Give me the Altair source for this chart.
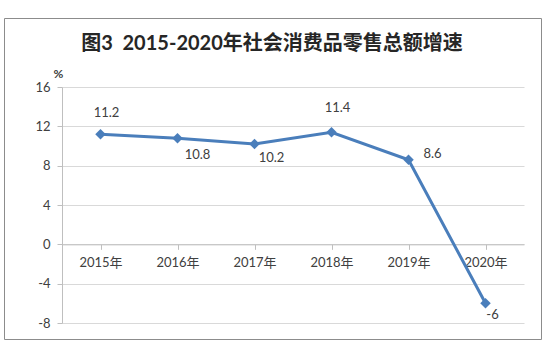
import altair as alt
import pandas as pd

years = ["2015年", "2016年", "2017年", "2018年", "2019年", "2020年"]
growth = [11.2, 10.8, 10.2, 11.4, 8.6, -6]
y_ticks = [-8, -4, 0, 4, 8, 12, 16]
title_text = "图3\u00a0\u00a02015-2020年社会消费品零售总额增速"

df = pd.DataFrame({"year": years, "value": growth})

FONT = "Lato, 'Noto Sans CJK SC', sans-serif"
BLUE = "#4a7ebb"
TXT = "#404040"
AX = "#bfbfbf"

W, H = 462, 236
zero_off = -(H * 8 / 24)

x_enc = alt.X(
    "year:N", sort=years,
    scale=alt.Scale(paddingInner=0, paddingOuter=0),
    axis=alt.Axis(
        title=None, orient="bottom", offset=zero_off, labelAngle=0,
        domainColor=AX, tickColor=AX, tickSize=5, bandPosition=0,
        labelFont=FONT, labelFontSize=13, labelColor=TXT, labelPadding=7,
        grid=False,
    ),
)
y_enc = alt.Y(
    "value:Q",
    scale=alt.Scale(domain=[-8, 16], nice=False, zero=False),
    axis=alt.Axis(
        values=y_ticks, title="%", titleAngle=0, titleX=-4, titleY=-14,
        titleAlign="center", titleBaseline="middle", titleFont=FONT,
        titleFontSize=12, titleFontWeight="bold", titleColor=TXT,
        domainColor=AX, tickColor=AX, tickSize=5, gridColor="#d9d9d9",
        labelFont=FONT, labelFontSize=13, labelColor=TXT, labelPadding=7,
        labelExpr="'' + datum.value", labelOverlap=False,
    ),
)

base = alt.Chart(df).encode(x=x_enc, y=y_enc).transform_calculate(
    label="'' + datum.value"
)

line = base.mark_line(color=BLUE, strokeWidth=3)
points = base.mark_point(shape="diamond", filled=True, size=110, color=BLUE, opacity=1)

offsets = {
    "2015年": (6, -21),
    "2016年": (20, 17),
    "2017年": (17, 14),
    "2018年": (6, -24),
    "2019年": (24, -6),
    "2020年": (7, 12),
}
label_layers = []
for yr, (dx, dy) in offsets.items():
    label_layers.append(
        base.transform_filter(alt.datum.year == yr)
        .mark_text(font=FONT, fontSize=13, color=TXT, dx=dx, dy=dy, align="center", baseline="middle")
        .encode(text="label:N")
    )

one = alt.Data(values=[{"t": title_text}])
border = alt.Chart(one).mark_rect(
    fill=None, stroke="#8c8c8c", strokeWidth=1
).encode(
    x=alt.value(-57.5), x2=alt.value(479.5), y=alt.value(-68.5), y2=alt.value(252.5)
)
title = alt.Chart(one).mark_text(
    font=FONT, fontSize=20, fontWeight="bold", color="#262626",
    align="center", baseline="middle",
).encode(text="t:N", x=alt.value(210), y=alt.value(-43))

chart = alt.layer(line, points, *label_layers, border, title).properties(
    width=W, height=H,
    autosize=alt.AutoSizeParams(type="none"),
    padding={"left": 62, "top": 87, "right": 26, "bottom": 31},
    background="white",
).configure_view(stroke=None)

chart.save("out.html", embed_options={"renderer": "svg", "actions": False})
